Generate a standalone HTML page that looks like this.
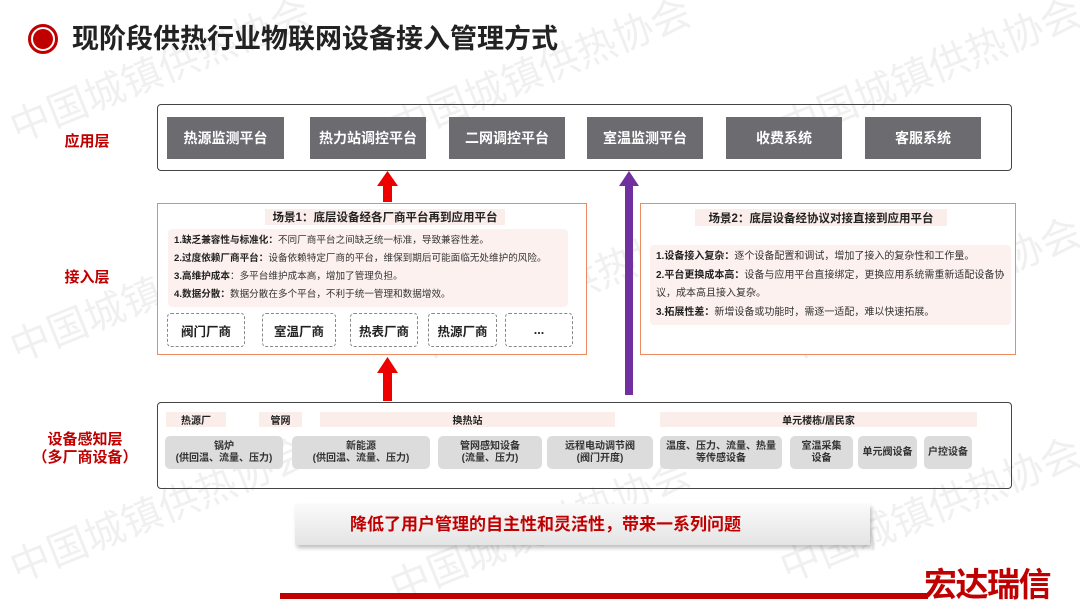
<!DOCTYPE html>
<html><head><meta charset="utf-8"><style>
*{margin:0;padding:0;box-sizing:border-box}
body{width:1080px;height:608px;position:relative;overflow:hidden;background:#fff;font-family:"Liberation Sans","Noto Sans CJK SC",sans-serif}
.a{position:absolute}
.wm{position:absolute;color:rgba(0,0,0,0.06);font-size:40px;transform:rotate(-22deg);white-space:nowrap;transform-origin:left top}
.ap{position:absolute;top:117px;height:42px;background:#6b6b70;color:#fff;font-size:14px;font-weight:bold;display:flex;align-items:center;justify-content:center}
.lbl{position:absolute;color:#c00000;font-weight:bold;font-size:15px;text-align:center}
.ob{position:absolute;border:1.5px solid #ee8a60;background:#fff}
.tb{position:absolute;background:#fbeeea;font-size:11.5px;font-weight:bold;color:#222;display:flex;align-items:center;justify-content:center}
.ct{position:absolute;background:#fcf1ee;border-radius:4px;font-size:9.6px;color:#333;padding:3px 6px;white-space:nowrap}
.ct b{color:#222}
.db{position:absolute;top:313px;height:34px;border:1.5px dashed #888;border-radius:4px;font-size:12.5px;font-weight:bold;color:#222;display:flex;align-items:center;justify-content:center}
.hd{position:absolute;top:412px;height:15px;background:#fbeeea;font-size:10px;font-weight:bold;color:#222;display:flex;align-items:center;justify-content:center}
.gb{position:absolute;top:436px;height:33px;background:#dcdcdc;border-radius:5px;font-size:10px;font-weight:bold;color:#333;display:flex;align-items:center;justify-content:center;text-align:center;line-height:12px}
</style></head><body>
<div class="wm" style="left:0;top:100px">中国城镇供热协会</div>
<div class="wm" style="left:380px;top:100px">中国城镇供热协会</div>
<div class="wm" style="left:770px;top:100px">中国城镇供热协会</div>
<div class="wm" style="left:0;top:320px">中国城镇供热协会</div>
<div class="wm" style="left:400px;top:320px">中国城镇供热协会</div>
<div class="wm" style="left:770px;top:320px">中国城镇供热协会</div>
<div class="wm" style="left:0;top:540px">中国城镇供热协会</div>
<div class="wm" style="left:380px;top:560px">中国城镇供热协会</div>
<div class="wm" style="left:770px;top:540px">中国城镇供热协会</div>

<div class="a" style="left:28px;top:24px;width:30px;height:30px;border-radius:50%;border:3px solid #c00000;background:#fff"></div>
<div class="a" style="left:33px;top:29px;width:20px;height:20px;border-radius:50%;background:#c00000"></div>
<div class="a" style="left:72px;top:22px;font-size:27px;font-weight:bold;color:#222;line-height:34px">现阶段供热行业物联网设备接入管理方式</div>

<div class="lbl" style="left:55px;top:130px;width:64px">应用层</div>
<div class="lbl" style="left:55px;top:266px;width:64px">接入层</div>
<div class="lbl" style="left:30px;top:431px;width:110px;line-height:18px">设备感知层<br>（多厂商设备）</div>

<div class="a" style="left:157px;top:104px;width:855px;height:67px;border:1.5px solid #444;border-radius:4px"></div>
<div class="ap" style="left:167px;width:117px">热源监测平台</div>
<div class="ap" style="left:310px;width:116px">热力站调控平台</div>
<div class="ap" style="left:449px;width:116px">二网调控平台</div>
<div class="ap" style="left:587px;width:116px">室温监测平台</div>
<div class="ap" style="left:726px;width:116px">收费系统</div>
<div class="ap" style="left:865px;width:116px">客服系统</div>

<svg class="a" style="left:0;top:0" width="1080" height="608">
<rect x="383" y="184" width="9" height="18" fill="#e00"/>
<polygon points="377,186 387.5,171 398,186" fill="#e00"/>
<rect x="383" y="371" width="9" height="30" fill="#e00"/>
<polygon points="377,373 387.5,357 398,373" fill="#e00"/>
<rect x="625" y="184" width="8" height="211" fill="#7030a0"/>
<polygon points="619,186 629,171 639,186" fill="#7030a0"/>
</svg>

<div class="ob" style="left:157px;top:203px;width:430px;height:152px"></div>
<div class="tb" style="left:265px;top:209px;width:240px;height:16px">场景1：底层设备经各厂商平台再到应用平台</div>
<div class="ct" style="left:168px;top:229px;width:400px;height:78px;line-height:18px;padding-top:3px">
<b>1.缺乏兼容性与标准化：</b>不同厂商平台之间缺乏统一标准，导致兼容性差。<br>
<b>2.过度依赖厂商平台：</b>设备依赖特定厂商的平台，维保到期后可能面临无处维护的风险。<br>
<b>3.高维护成本</b>：多平台维护成本高，增加了管理负担。<br>
<b>4.数据分散：</b>数据分散在多个平台，不利于统一管理和数据增效。</div>
<div class="db" style="left:167px;width:78px">阀门厂商</div>
<div class="db" style="left:262px;width:74px">室温厂商</div>
<div class="db" style="left:350px;width:68px">热表厂商</div>
<div class="db" style="left:428px;width:69px">热源厂商</div>
<div class="db" style="left:505px;width:68px">...</div>

<div class="ob" style="left:640px;top:203px;width:376px;height:152px"></div>
<div class="tb" style="left:695px;top:209px;width:252px;height:17px">场景2：底层设备经协议对接直接到应用平台</div>
<div class="ct" style="left:650px;top:245px;width:361px;height:80px;line-height:18.5px;padding-top:3px;white-space:normal;font-size:10px">
<b>1.设备接入复杂：</b>逐个设备配置和调试，增加了接入的复杂性和工作量。<br>
<b>2.平台更换成本高：</b>设备与应用平台直接绑定，更换应用系统需重新适配设备协议，成本高且接入复杂。<br>
<b>3.拓展性差：</b>新增设备或功能时，需逐一适配，难以快速拓展。</div>

<div class="a" style="left:157px;top:402px;width:855px;height:87px;border:1.5px solid #444;border-radius:4px"></div>
<div class="hd" style="left:166px;width:60px">热源厂</div>
<div class="hd" style="left:259px;width:43px">管网</div>
<div class="hd" style="left:320px;width:295px">换热站</div>
<div class="hd" style="left:660px;width:317px">单元楼栋/居民家</div>
<div class="gb" style="left:165px;width:118px">锅炉<br>(供回温、流量、压力)</div>
<div class="gb" style="left:292px;width:138px">新能源<br>(供回温、流量、压力)</div>
<div class="gb" style="left:438px;width:104px">管网感知设备<br>(流量、压力)</div>
<div class="gb" style="left:547px;width:106px">远程电动调节阀<br>(阀门开度)</div>
<div class="gb" style="left:660px;width:122px">温度、压力、流量、热量<br>等传感设备</div>
<div class="gb" style="left:790px;width:63px">室温采集<br>设备</div>
<div class="gb" style="left:858px;width:59px">单元阀设备</div>
<div class="gb" style="left:924px;width:48px">户控设备</div>

<div class="a" style="left:295px;top:504px;width:575px;height:41px;background:linear-gradient(#fafafa,#e4e4e4);box-shadow:2px 3px 4px rgba(0,0,0,0.25)"></div>
<div class="a" style="left:350px;top:514px;font-size:17px;font-weight:bold;color:#c00000;line-height:22px">降低了用户管理的自主性和灵活性，带来一系列问题</div>

<div class="a" style="left:280px;top:593px;width:648px;height:6px;background:#c00000"></div>
<div class="a" style="left:924px;top:566px;font-size:33px;font-weight:bold;color:#c00000;line-height:38px;letter-spacing:-1.5px">宏达瑞信</div>
</body></html>
